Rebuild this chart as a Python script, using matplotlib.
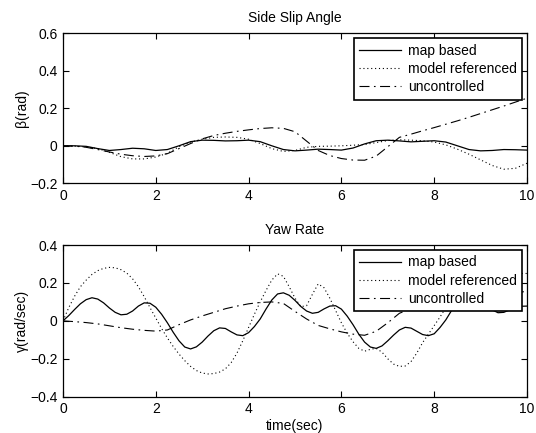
import matplotlib
matplotlib.use('Agg')
import matplotlib.pyplot as plt
from matplotlib.ticker import FuncFormatter

plt.rcParams['font.family'] = ['Liberation Sans', 'DejaVu Sans']
plt.rcParams['font.size'] = 10

t = [i * 0.25 for i in range(41)]
t_fine = [i * 0.125 for i in range(81)]

# side slip angle (rad)
beta_map = [0.0, 0.0, -0.003, -0.015, -0.025, -0.02, -0.013, -0.016, -0.025, -0.02,
            0.0, 0.022, 0.03, 0.029, 0.026, 0.027, 0.03, 0.022, 0.0, -0.02,
            -0.027, -0.023, -0.018, -0.02, -0.023, -0.012, 0.01, 0.027, 0.03, 0.026,
            0.021, 0.024, 0.027, 0.02, 0.0, -0.02, -0.027, -0.025, -0.02, -0.021, -0.023]
beta_model = [0.0, -0.002, -0.006, -0.015, -0.035, -0.058, -0.07, -0.07, -0.06, -0.04,
              -0.005, 0.02, 0.035, 0.045, 0.047, 0.045, 0.035, 0.012, -0.015, -0.03,
              -0.025, -0.008, -0.003, -0.002, 0.0, 0.003, 0.007, 0.017, 0.028, 0.032,
              0.03, 0.027, 0.02, 0.005, -0.018, -0.045, -0.075, -0.105, -0.125, -0.12, -0.093]
beta_unc = [0.0, -0.002, -0.008, -0.02, -0.033, -0.045, -0.053, -0.057, -0.054, -0.042,
            -0.015, 0.012, 0.037, 0.055, 0.067, 0.077, 0.085, 0.092, 0.096, 0.093,
            0.075, 0.025, -0.025, -0.052, -0.068, -0.076, -0.077, -0.055, -0.005, 0.045,
            0.062, 0.08, 0.097, 0.115, 0.133, 0.152, 0.172, 0.192, 0.212, 0.233, 0.254]

# yaw rate (rad/sec), map based and model referenced read every 0.125 s
gamma_map = [0.0, 0.028, 0.06, 0.09, 0.112, 0.122, 0.115, 0.095, 0.068, 0.045,
             0.032, 0.035, 0.052, 0.078, 0.095, 0.093, 0.072, 0.035, -0.01, -0.06,
             -0.105, -0.138, -0.148, -0.137, -0.112, -0.08, -0.052, -0.037, -0.04, -0.058,
             -0.074, -0.078, -0.062, -0.03, 0.01, 0.062, 0.11, 0.142, 0.148, 0.135,
             0.108, 0.076, 0.052, 0.04, 0.045, 0.063, 0.078, 0.08, 0.062, 0.025,
             -0.02, -0.07, -0.112, -0.138, -0.145, -0.132, -0.105, -0.075, -0.048, -0.034,
             -0.038, -0.055, -0.072, -0.078, -0.068, -0.035, 0.005, 0.055, 0.1, 0.135,
             0.15, 0.14, 0.115, 0.085, 0.058, 0.043, 0.045, 0.058, 0.07, 0.077, 0.078]
gamma_model = [0.0, 0.07, 0.13, 0.18, 0.215, 0.245, 0.265, 0.277, 0.282, 0.28,
               0.27, 0.252, 0.222, 0.18, 0.128, 0.07, 0.015, -0.04, -0.09, -0.135,
               -0.175, -0.21, -0.24, -0.262, -0.275, -0.28, -0.278, -0.27, -0.253, -0.22,
               -0.17, -0.105, -0.035, 0.035, 0.1, 0.16, 0.215, 0.248, 0.235, 0.18,
               0.12, 0.075, 0.08, 0.14, 0.195, 0.175, 0.12, 0.055, -0.01, -0.065,
               -0.11, -0.145, -0.16, -0.15, -0.145, -0.165, -0.2, -0.228, -0.24, -0.238,
               -0.215, -0.17, -0.115, -0.07, -0.025, 0.02, 0.07, 0.12, 0.17, 0.215,
               0.245, 0.25, 0.22, 0.17, 0.13, 0.13, 0.165, 0.205, 0.235, 0.25, 0.25]
gamma_unc = [0.0, -0.004, -0.009, -0.016, -0.026, -0.036, -0.044, -0.05, -0.054, -0.048,
             -0.02, 0.005, 0.026, 0.045, 0.064, 0.078, 0.09, 0.097, 0.1, 0.092,
             0.05, 0.01, -0.024, -0.042, -0.058, -0.07, -0.076, -0.055, -0.01, 0.04,
             0.065, 0.08, 0.09, 0.1, 0.108, 0.116, 0.124, 0.132, 0.14, 0.148, 0.156]

labels = ['map based', 'model referenced', 'uncontrolled']
dotted = (0, (1, 2.5))
dashdot = (0, (9, 4, 1.5, 4))


def fmt(v, pos):
    return ('%g' % round(v, 3)).replace('-', '\u2212')


fig = plt.figure(figsize=(5.36, 4.33), dpi=100)
ax1 = fig.add_axes([0.1175, 0.5767, 0.8657, 0.3464])
ax2 = fig.add_axes([0.1175, 0.0838, 0.8657, 0.3503])

panels = [
    (ax1, t, beta_map, beta_model, beta_unc, 'Side Slip Angle', '\u03b2(rad)', (-0.2, 0.6)),
    (ax2, t_fine, gamma_map, gamma_model, gamma_unc, 'Yaw Rate', '\u03b3(rad/sec)', (-0.4, 0.4)),
]

for ax, tx, ym, yr, yu, title, ylab, ylim in panels:
    ax.plot(tx, ym, color='black', linestyle='-', lw=0.9, label=labels[0])
    ax.plot(tx, yr, color='black', linestyle=dotted, lw=0.8, label=labels[1])
    ax.plot(t, yu, color='black', linestyle=dashdot, lw=0.8, label=labels[2])
    ax.set_xlim(0, 10)
    ax.set_ylim(*ylim)
    ax.set_xticks([0, 2, 4, 6, 8, 10])
    ax.set_yticks([ylim[0] + 0.2 * i for i in range(5)])
    ax.yaxis.set_major_formatter(FuncFormatter(fmt))
    ax.xaxis.set_major_formatter(FuncFormatter(fmt))
    ax.tick_params(direction='in', top=True, right=True, length=4, width=0.8,
                   labelsize=10, pad=4)
    for s in ax.spines.values():
        s.set_linewidth(0.9)
    ax.set_title(title, fontsize=10, pad=8)
    ax.set_ylabel(ylab, fontsize=10, labelpad=1)
    leg = ax.legend(loc='upper right', fontsize=10, handlelength=3.0,
                    fancybox=False, framealpha=1, edgecolor='black',
                    borderaxespad=0.35, labelspacing=0.3, borderpad=0.4,
                    handletextpad=0.5)
    leg.get_frame().set_linewidth(1.2)

ax2.set_xlabel('time(sec)', fontsize=10, labelpad=2)

fig.savefig('out.png', dpi=100)
